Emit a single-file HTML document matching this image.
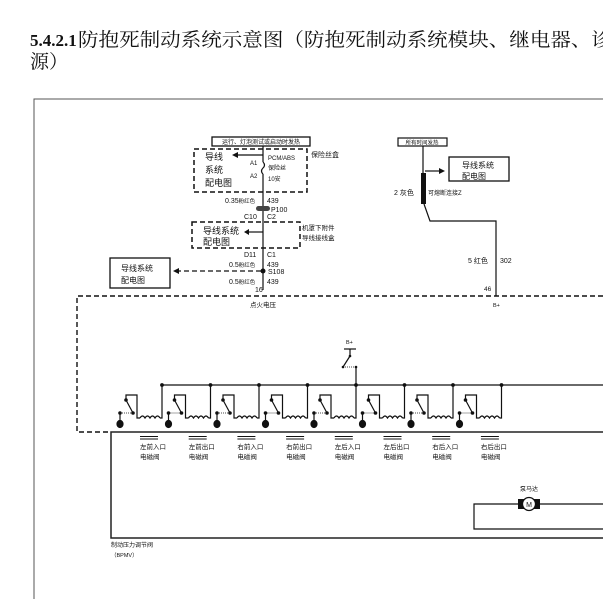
<!DOCTYPE html>
<html><head><meta charset="utf-8"><style>
html,body{margin:0;padding:0;background:#fff;width:603px;height:599px;overflow:hidden}
svg{display:block}
.t{font-family:"Liberation Sans","Noto Sans CJK SC",sans-serif;fill:#111}
.s{font-family:"Liberation Serif","Noto Serif CJK SC",serif;fill:#111}
</style></head><body>
<svg width="603" height="599" viewBox="0 0 603 599" xmlns="http://www.w3.org/2000/svg">
<text x="30" y="46" class="s" font-size="19"><tspan font-weight="bold" font-size="17">5.4.2.1</tspan></text>
<text x="78" y="46" class="s" font-size="19" textLength="534" lengthAdjust="spacingAndGlyphs">防抱死制动系统示意图（防抱死制动系统模块、继电器、诊</text>
<text x="30" y="68" class="s" font-size="19">源）</text>
<!-- outer frame -->
<path d="M34 599 V99 H603" fill="none" stroke="#555" stroke-width="1"/>
<!-- top left section -->
<rect x="212" y="137" width="98" height="9" fill="none" stroke="#111" stroke-width="1.3"/>
<text x="261" y="144" class="t" font-size="6" text-anchor="middle">运行、灯泡测试或启动时发热</text>
<rect x="194" y="149" width="113" height="43" fill="none" stroke="#111" stroke-width="1.5" stroke-dasharray="5,3"/>
<text x="311" y="157" class="t" font-size="7">保险丝盒</text>
<text x="205" y="160" class="t" font-size="9">导线</text>
<text x="205" y="173" class="t" font-size="9">系统</text>
<text x="205" y="186" class="t" font-size="9">配电图</text>
<line x1="263" y1="146" x2="263" y2="162" stroke="#111" stroke-width="1.2"/>
<path d="M263 162 q3 3 0 6 q-3 3 0 6" fill="none" stroke="#111" stroke-width="1.2"/>
<line x1="263" y1="174" x2="263" y2="206" stroke="#111" stroke-width="1.2"/>
<line x1="263" y1="155" x2="237" y2="155" stroke="#111" stroke-width="1.2"/>
<path d="M232 155 l6 -3 v6z" fill="#111"/>
<text x="250" y="165" class="t" font-size="6">A1</text>
<text x="250" y="178" class="t" font-size="6">A2</text>
<text x="268" y="160" class="t" font-size="6">PCM/ABS</text>
<text x="268" y="170" class="t" font-size="6">保险丝</text>
<text x="268" y="181" class="t" font-size="6">10安</text>
<text x="225" y="203" class="t" font-size="7">0.35<tspan font-size="5.5">粉红色</tspan></text>
<text x="267" y="203" class="t" font-size="7">439</text>
<rect x="256" y="206" width="14" height="5" rx="2.5" fill="#444"/>
<text x="271" y="212" class="t" font-size="7">P100</text>
<text x="244" y="219" class="t" font-size="7">C10</text>
<text x="267" y="219" class="t" font-size="7">C2</text>
<line x1="263" y1="211" x2="263" y2="258" stroke="#111" stroke-width="1.2"/>
<rect x="192" y="222" width="108" height="26" fill="none" stroke="#111" stroke-width="1.5" stroke-dasharray="5,3"/>
<text x="203" y="234" class="t" font-size="9">导线系统</text>
<text x="203" y="245" class="t" font-size="9">配电图</text>
<line x1="263" y1="232" x2="248" y2="232" stroke="#111" stroke-width="1.2"/>
<path d="M244 232 l5 -3 v6z" fill="#111"/>
<text x="302" y="230" class="t" font-size="6.5">机罩下附件</text>
<text x="302" y="240" class="t" font-size="6.5">导线接线盒</text>
<text x="244" y="257" class="t" font-size="7">D11</text>
<text x="267" y="257" class="t" font-size="7">C1</text>
<line x1="263" y1="258" x2="263" y2="290" stroke="#111" stroke-width="1.2"/>
<text x="229" y="267" class="t" font-size="7">0.5<tspan font-size="5.5">粉红色</tspan></text>
<text x="267" y="267" class="t" font-size="7">439</text>
<circle cx="263" cy="271" r="2.5" fill="#111"/>
<text x="268" y="274" class="t" font-size="7">S108</text>
<line x1="261" y1="271" x2="178" y2="271" stroke="#111" stroke-width="1.2" stroke-dasharray="5,3"/>
<path d="M173 271 l6 -3 v6z" fill="#111"/>
<text x="229" y="284" class="t" font-size="7">0.5<tspan font-size="5.5">粉红色</tspan></text>
<text x="267" y="284" class="t" font-size="7">439</text>
<text x="255" y="292" class="t" font-size="7">16</text>
<rect x="110" y="258" width="60" height="30" fill="none" stroke="#111" stroke-width="1.3"/>
<text x="121" y="271" class="t" font-size="8">导线系统</text>
<text x="121" y="283" class="t" font-size="8">配电图</text>
<text x="250" y="307" class="t" font-size="6.5">点火电压</text>
<!-- right top -->
<rect x="398" y="138" width="49" height="8" fill="none" stroke="#111" stroke-width="1.2"/>
<text x="422" y="144.5" class="t" font-size="5.5" text-anchor="middle">所有时间发热</text>
<line x1="423" y1="146" x2="423" y2="174" stroke="#111" stroke-width="1.2"/>
<line x1="425" y1="171" x2="440" y2="171" stroke="#111" stroke-width="1.2"/>
<path d="M445 171 l-6 -3 v6z" fill="#111"/>
<rect x="449" y="157" width="60" height="24" fill="none" stroke="#111" stroke-width="1.3"/>
<text x="462" y="168" class="t" font-size="8">导线系统</text>
<text x="462" y="179" class="t" font-size="8">配电图</text>
<rect x="421" y="173" width="5" height="31" fill="#111"/>
<text x="394" y="195" class="t" font-size="7">2 灰色</text>
<text x="428" y="195" class="t" font-size="6">可熔断连接Z</text>
<path d="M424 204 L430 221 H496 V296" fill="none" stroke="#111" stroke-width="1.2"/>
<text x="468" y="263" class="t" font-size="7">5 红色</text>
<text x="500" y="263" class="t" font-size="7">302</text>
<text x="484" y="291" class="t" font-size="6.5">46</text>
<text x="493" y="307" class="t" font-size="5.5">B+</text>
<!-- dashed module box -->
<path d="M603 296 H77 V432 H111" fill="none" stroke="#111" stroke-width="1.4" stroke-dasharray="5,3"/>
<!-- B+ relay -->
<text x="346" y="344" class="t" font-size="5.5">B+</text>
<line x1="344" y1="349" x2="356" y2="349" stroke="#111" stroke-width="1.2"/>
<line x1="350" y1="349" x2="350" y2="356" stroke="#111" stroke-width="1.2"/>
<line x1="350" y1="356" x2="343" y2="367" stroke="#111" stroke-width="1.2"/>
<circle cx="350" cy="356" r="1.3" fill="#111"/>
<circle cx="343" cy="367" r="1.3" fill="#111"/>
<line x1="343" y1="367" x2="356" y2="367" stroke="#111" stroke-width="0.8" stroke-dasharray="1,1"/>
<circle cx="356" cy="367" r="1.3" fill="#111"/>
<line x1="356" y1="367" x2="356" y2="385" stroke="#111" stroke-width="1.2"/>
<line x1="162" y1="385" x2="603" y2="385" stroke="#111" stroke-width="1.2"/>
<!-- relay units -->
<g id="u" stroke="#111" stroke-width="1.2" fill="none">
<path d="M126 400 V395 H137 V418 H140"/>
<path d="M140 418 q2.5 -4 5 0 q2.5 -4 5 0 q2.5 -4 5 0 q2.5 -4 5 0"/>
<path d="M160 418 H162 V385"/>
<line x1="126" y1="400" x2="133" y2="413"/>
<line x1="120" y1="413" x2="133" y2="413" stroke-width="0.7" stroke-dasharray="1,1"/>
<line x1="120" y1="413" x2="120" y2="428"/>
<circle cx="126" cy="400" r="1.2" fill="#111"/>
<circle cx="133" cy="413" r="1.2" fill="#111"/>
<circle cx="120" cy="413" r="1.2" fill="#111"/>
<ellipse cx="120" cy="424" rx="3" ry="3.5" fill="#111"/>
<circle cx="162" cy="385" r="1.3" fill="#111"/>
</g>
<use href="#u" x="48.5"/><use href="#u" x="97"/><use href="#u" x="145.5"/><use href="#u" x="194"/><use href="#u" x="242.5"/><use href="#u" x="291"/><use href="#u" x="339.5"/>
<!-- BPMV box -->
<path d="M603 432 H111 V538 H603" fill="none" stroke="#222" stroke-width="1.5"/>
<g id="l">
<line x1="140" y1="436.5" x2="158" y2="436.5" stroke="#111" stroke-width="0.9"/>
<line x1="140" y1="439" x2="158" y2="439" stroke="#111" stroke-width="0.9"/>
</g>
<use href="#l" x="48.7"/><use href="#l" x="97.4"/><use href="#l" x="146.1"/><use href="#l" x="194.8"/><use href="#l" x="243.5"/><use href="#l" x="292.2"/><use href="#l" x="340.9"/>
<g class="t" font-size="6.5">
<text x="140" y="449">左前入口</text><text x="140" y="459">电磁阀</text>
<text x="188.7" y="449">左前出口</text><text x="188.7" y="459">电磁阀</text>
<text x="237.4" y="449">右前入口</text><text x="237.4" y="459">电磁阀</text>
<text x="286.1" y="449">右前出口</text><text x="286.1" y="459">电磁阀</text>
<text x="334.8" y="449">左后入口</text><text x="334.8" y="459">电磁阀</text>
<text x="383.5" y="449">左后出口</text><text x="383.5" y="459">电磁阀</text>
<text x="432.2" y="449">右后入口</text><text x="432.2" y="459">电磁阀</text>
<text x="480.9" y="449">右后出口</text><text x="480.9" y="459">电磁阀</text>
</g>
<!-- motor -->
<text x="520" y="491" class="t" font-size="6">泵马达</text>
<path d="M603 504 H474 V529 H603" fill="none" stroke="#111" stroke-width="1.2"/>
<rect x="518" y="499" width="22" height="10" fill="#111"/>
<circle cx="529" cy="504" r="6.5" fill="#fff" stroke="#111" stroke-width="1.3"/>
<text x="529" y="507" class="t" font-size="7" text-anchor="middle">M</text>
<text x="111" y="547" class="t" font-size="6">制动压力调节阀</text>
<text x="111" y="557" class="t" font-size="5.5">（BPMV）</text>
</svg>
</body></html>
